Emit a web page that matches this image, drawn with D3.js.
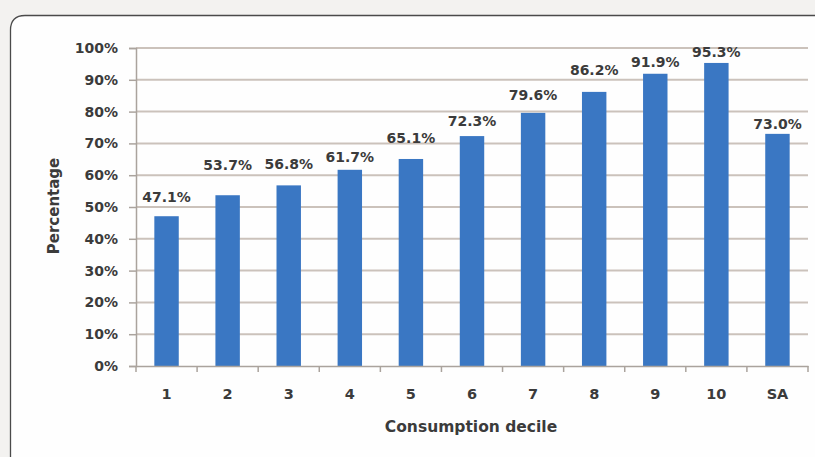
<!DOCTYPE html>
<html><head><meta charset="utf-8">
<script src="https://cdn.jsdelivr.net/npm/d3@7"></script>
<style>body{margin:0;background:#f3f2f0;}svg{display:block;}</style>
</head><body>
<script>
const categories = ["1","2","3","4","5","6","7","8","9","10","SA"];
const values = [47.1,53.7,56.8,61.7,65.1,72.3,79.6,86.2,91.9,95.3,73.0];
const yTicks = [0,10,20,30,40,50,60,70,80,90,100];

const W=815,H=457;
const svg=d3.select("body").append("svg").attr("width",W).attr("height",H);
svg.append("rect").attr("width",W).attr("height",H).attr("fill","#f3f2f0");
// panel
svg.append("path").attr("d",`M10.5,${H+2} L10.5,30 Q10.5,15.5 25,15.5 L${W+2},15.5 L${W+2},${H+2} Z`)
  .attr("fill","#fefefe").attr("stroke","#4a4a4a").attr("stroke-width",1.3);

const pL=136,pR=808,pT=48,pB=366;
const x=d3.scaleBand().domain(categories).range([pL,pR]).paddingInner(0.6).paddingOuter(0.3);
const xb=d3.scaleBand().domain(categories).range([pL,pR]);
const y=d3.scaleLinear().domain([0,100]).range([pB,pT]);
const font="'DejaVu Sans', sans-serif";
const txt="#3b3b3b";

// grid
svg.append("g").selectAll("line").data(yTicks.filter(d=>d>0)).join("line")
  .attr("x1",pL).attr("x2",pR).attr("y1",d=>y(d)).attr("y2",d=>y(d))
  .attr("stroke","#cbc2bb").attr("stroke-width",2);

// y axis
const ya=svg.append("g").attr("transform",`translate(${pL},0)`)
  .call(d3.axisLeft(y).tickValues(yTicks).tickFormat(d=>d+"%").tickSize(7).tickPadding(11));
ya.select(".domain").attr("stroke","#aaa39d").attr("stroke-width",1.5);
ya.selectAll(".tick line").attr("stroke","#aaa39d").attr("stroke-width",1.5);
ya.selectAll("text").attr("font-family",font).attr("font-weight","bold").attr("font-size",14).attr("fill",txt);

// bars
svg.append("g").selectAll("rect").data(values).join("rect")
  .attr("x",(d,i)=>x(categories[i])).attr("width",x.bandwidth())
  .attr("y",d=>y(d)).attr("height",d=>pB-y(d)).attr("fill","#3a77c3");

// x axis
const xa=svg.append("g").attr("transform",`translate(0,${pB})`)
  .call(d3.axisBottom(xb).tickSize(0).tickPadding(23));
xa.select(".domain").attr("stroke","#aaa39d").attr("stroke-width",1.5);
xa.selectAll("text").attr("font-family",font).attr("font-weight","bold").attr("font-size",14.5).attr("fill",txt);
svg.append("g").selectAll("line").data(d3.range(categories.length+1)).join("line")
  .attr("x1",i=>pL+i*xb.step()).attr("x2",i=>pL+i*xb.step())
  .attr("y1",pB).attr("y2",pB+6).attr("stroke","#aaa39d").attr("stroke-width",1.5);

// value labels (gap above each bar as placed in the original)
const labelGap=[14,25,16,8,16,10,13,17,7,6,5];
svg.append("g").selectAll("text").data(values).join("text")
  .attr("x",(d,i)=>x(categories[i])+x.bandwidth()/2).attr("y",(d,i)=>y(d)-labelGap[i])
  .attr("text-anchor","middle").attr("font-family",font).attr("font-weight","bold")
  .attr("font-size",14).attr("fill",txt).text(d=>d.toFixed(1)+"%");

svg.append("text").attr("transform",`translate(59,206) rotate(-90)`)
  .attr("text-anchor","middle").attr("font-family",font).attr("font-weight","bold")
  .attr("font-size",15).attr("fill",txt).text("Percentage");
svg.append("text").attr("x",471).attr("y",432)
  .attr("text-anchor","middle").attr("font-family",font).attr("font-weight","bold")
  .attr("font-size",15.5).attr("fill",txt).text("Consumption decile");
</script>
</body></html>
